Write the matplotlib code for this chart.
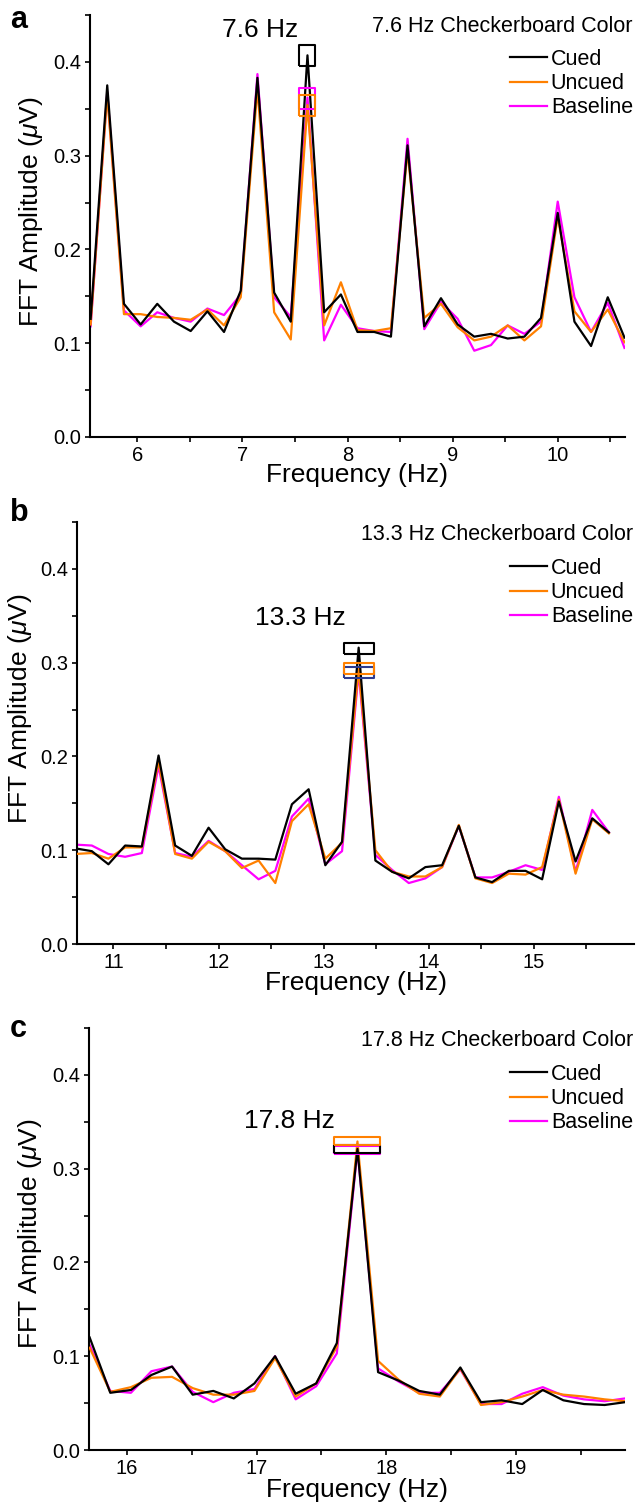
import matplotlib
matplotlib.use('Agg')
import matplotlib.pyplot as plt
from matplotlib.ticker import MultipleLocator, FormatStrFormatter

plt.rcParams['font.family'] = ['Liberation Sans', 'DejaVu Sans']
plt.rcParams['mathtext.fontset'] = 'custom'
plt.rcParams['mathtext.rm'] = 'Liberation Sans'
plt.rcParams['mathtext.it'] = 'Liberation Sans:italic'

W, H = 637, 1502

# FFT bins (resolution 1/6.3 Hz)
freq_a = [5.556, 5.714, 5.873, 6.032, 6.190, 6.349, 6.508, 6.667, 6.825, 6.984,
          7.143, 7.302, 7.460, 7.619, 7.778, 7.937, 8.095, 8.254, 8.413, 8.571,
          8.730, 8.889, 9.048, 9.206, 9.365, 9.524, 9.683, 9.841, 10.000, 10.159,
          10.317, 10.476, 10.635]
cued_a = [0.126, 0.375, 0.142, 0.120, 0.142, 0.123, 0.113, 0.134, 0.112, 0.156,
          0.383, 0.154, 0.123, 0.407, 0.133, 0.152, 0.112, 0.112, 0.107, 0.311,
          0.118, 0.148, 0.120, 0.107, 0.110, 0.105, 0.107, 0.127, 0.239, 0.123,
          0.097, 0.149, 0.106]
uncued_a = [0.120, 0.365, 0.131, 0.131, 0.128, 0.127, 0.125, 0.136, 0.119, 0.149,
            0.372, 0.133, 0.104, 0.354, 0.119, 0.165, 0.114, 0.113, 0.116, 0.305,
            0.127, 0.142, 0.117, 0.103, 0.107, 0.119, 0.103, 0.118, 0.235, 0.134,
            0.112, 0.136, 0.101]
baseline_a = [0.118, 0.368, 0.135, 0.118, 0.133, 0.127, 0.123, 0.137, 0.130, 0.152,
              0.387, 0.149, 0.128, 0.362, 0.103, 0.141, 0.116, 0.113, 0.112, 0.318,
              0.115, 0.144, 0.126, 0.092, 0.098, 0.119, 0.110, 0.123, 0.251, 0.149,
              0.112, 0.143, 0.095]

freq_b = [10.635, 10.794, 10.952, 11.111, 11.270, 11.429, 11.587, 11.746, 11.905, 12.063,
          12.222, 12.381, 12.540, 12.698, 12.857, 13.016, 13.175, 13.333, 13.492, 13.651,
          13.810, 13.968, 14.127, 14.286, 14.444, 14.603, 14.762, 14.921, 15.079, 15.238,
          15.397, 15.556, 15.714]
cued_b = [0.102, 0.099, 0.085, 0.105, 0.104, 0.201, 0.105, 0.094, 0.124, 0.101,
          0.091, 0.091, 0.090, 0.149, 0.165, 0.084, 0.109, 0.316, 0.089, 0.077,
          0.070, 0.082, 0.084, 0.126, 0.071, 0.066, 0.078, 0.078, 0.069, 0.152,
          0.088, 0.134, 0.119]
uncued_b = [0.096, 0.097, 0.091, 0.103, 0.103, 0.195, 0.096, 0.091, 0.109, 0.099,
            0.081, 0.089, 0.065, 0.131, 0.149, 0.091, 0.108, 0.294, 0.100, 0.077,
            0.072, 0.072, 0.082, 0.127, 0.070, 0.065, 0.075, 0.074, 0.082, 0.154,
            0.075, 0.133, 0.118]
baseline_b = [0.106, 0.105, 0.096, 0.093, 0.097, 0.190, 0.097, 0.093, 0.110, 0.099,
              0.084, 0.069, 0.078, 0.136, 0.155, 0.085, 0.099, 0.290, 0.095, 0.079,
              0.065, 0.070, 0.082, 0.126, 0.071, 0.071, 0.077, 0.084, 0.079, 0.157,
              0.077, 0.143, 0.119]

freq_c = [15.714, 15.873, 16.032, 16.190, 16.349, 16.508, 16.667, 16.825, 16.984, 17.143,
          17.302, 17.460, 17.619, 17.778, 17.937, 18.095, 18.254, 18.413, 18.571, 18.730,
          18.889, 19.048, 19.206, 19.365, 19.524, 19.683, 19.841]
cued_c = [0.120, 0.061, 0.064, 0.080, 0.089, 0.059, 0.063, 0.055, 0.071, 0.100,
          0.060, 0.071, 0.114, 0.321, 0.083, 0.074, 0.063, 0.059, 0.088, 0.051,
          0.053, 0.049, 0.064, 0.053, 0.049, 0.048, 0.051]
uncued_c = [0.109, 0.062, 0.067, 0.077, 0.078, 0.066, 0.059, 0.059, 0.063, 0.098,
            0.057, 0.071, 0.110, 0.329, 0.095, 0.075, 0.060, 0.057, 0.087, 0.048,
            0.051, 0.057, 0.064, 0.059, 0.057, 0.054, 0.052]
baseline_c = [0.112, 0.063, 0.061, 0.084, 0.089, 0.062, 0.051, 0.061, 0.065, 0.100,
              0.054, 0.068, 0.103, 0.320, 0.087, 0.073, 0.061, 0.061, 0.086, 0.049,
              0.049, 0.060, 0.067, 0.058, 0.054, 0.052, 0.055]

# peak boxes: frequency, (cued, uncued, baseline)
peak_f = [7.619, 13.333, 17.778]
peak_vals = [(0.407, 0.354, 0.362), (0.316, 0.294, 0.290), (0.321, 0.329, 0.320)]
stim_labels = ['7.6 Hz', '13.3 Hz', '17.8 Hz']
letters = ['a', 'b', 'c']

C_CUED, C_UNC, C_BASE = 'black', '#ff8000', '#ff00ff'
C_NAVY = '#2e3b8f'

fig = plt.figure(figsize=(W / 100, H / 100), dpi=100)


def fx(x):
    return x / W


def fy(y):
    return 1 - y / H


def box(hw, hh):
    return [(-hw, -hh), (hw, -hh), (hw, hh), (-hw, hh), (-hw, -hh)]


# per panel layout (pixels): axes box, xlim, text baselines
panels = [
    dict(rect=(90, 15, 625, 437), xlim=(5.55, 10.64),
         box=(16, 21), letter_y=28, title_y=32, leg_y=49, stim=(260, 37),
         ylab=(31, 212), xlab_y=482, box_cols=(C_BASE, C_UNC, C_CUED)),
    dict(rect=(77, 522, 634, 944), xlim=(10.653, 15.953),
         box=(30, 11), letter_y=521, title_y=540, leg_y=558, stim=(300, 625),
         ylab=(20, 709), xlab_y=990, box_cols=(C_NAVY, C_UNC, C_CUED)),
    dict(rect=(89, 1028, 625, 1450), xlim=(15.709, 19.84),
         box=(47, 9), letter_y=1037, title_y=1046, leg_y=1064, stim=(289, 1128),
         ylab=(30, 1234), xlab_y=1497, box_cols=(C_BASE, C_CUED, C_UNC)),
]
series = [(freq_a, cued_a, uncued_a, baseline_a),
          (freq_b, cued_b, uncued_b, baseline_b),
          (freq_c, cued_c, uncued_c, baseline_c)]

for i, p in enumerate(panels):
    x0, y0, x1, y1 = p['rect']
    ax = fig.add_axes([fx(x0), fy(y1), (x1 - x0) / W, (y1 - y0) / H])
    f, cu, un, ba = series[i]
    ax.plot(f, ba, color=C_BASE, lw=1.6, label='Baseline', zorder=2)
    ax.plot(f, un, color=C_UNC, lw=1.6, label='Uncued', zorder=3)
    ax.plot(f, cu, color=C_CUED, lw=1.6, label='Cued', zorder=4)

    # peak boxes
    bw, bh = p['box']
    m = max(bw, bh)
    mk = box(bw / m / 2, bh / m / 2)
    vals = {C_CUED: peak_vals[i][0], C_UNC: peak_vals[i][1],
            C_BASE: peak_vals[i][2], C_NAVY: peak_vals[i][2]}
    for z, col in enumerate(p['box_cols']):
        ax.plot([peak_f[i]], [vals[col]], linestyle='none', marker=mk, ms=m * 0.72,
                mfc='none', mec=col, mew=1.5, zorder=5 + z, clip_on=False)

    ax.set_xlim(*p['xlim'])
    ax.set_ylim(0, 0.45)
    ax.xaxis.set_major_locator(MultipleLocator(1))
    ax.xaxis.set_minor_locator(MultipleLocator(0.5))
    ax.yaxis.set_major_locator(MultipleLocator(0.1))
    ax.yaxis.set_minor_locator(MultipleLocator(0.05))
    ax.yaxis.set_major_formatter(FormatStrFormatter('%.1f'))
    ax.xaxis.set_major_formatter(FormatStrFormatter('%d'))
    for s in ('top', 'right'):
        ax.spines[s].set_visible(False)
    for s in ('left', 'bottom'):
        ax.spines[s].set_linewidth(1.5)
    ax.tick_params(which='both', direction='out', length=3.5, width=1.2, labelsize=14.5, pad=3)
    ax.patch.set_alpha(0)

    h, l = ax.get_legend_handles_labels()
    ax.legend(h[::-1], l[::-1], loc='upper right', bbox_to_anchor=(fx(633), fy(p['leg_y'])),
              bbox_transform=fig.transFigure, frameon=False, fontsize=15.5, borderpad=0,
              borderaxespad=0, handlelength=1.7, handletextpad=0.2, labelspacing=0.15)

    fig.text(fx(633), fy(p['title_y']), stim_labels[i] + ' Checkerboard Color',
             ha='right', va='baseline', fontsize=15.5)
    fig.text(fx(p['stim'][0]), fy(p['stim'][1]), stim_labels[i], ha='center', va='baseline', fontsize=19)
    fig.text(fx(10), fy(p['letter_y']), letters[i], ha='left', va='baseline', fontsize=22, fontweight='bold')
    fig.text(fx(p['ylab'][0]), fy(p['ylab'][1]), r'FFT Amplitude ($\mu$V)', rotation=90,
             ha='center', va='center', fontsize=19)
    fig.text(fx((x0 + x1) / 2), fy(p['xlab_y']), 'Frequency (Hz)', ha='center', va='baseline', fontsize=19)

fig.savefig('out.png', dpi=100)
